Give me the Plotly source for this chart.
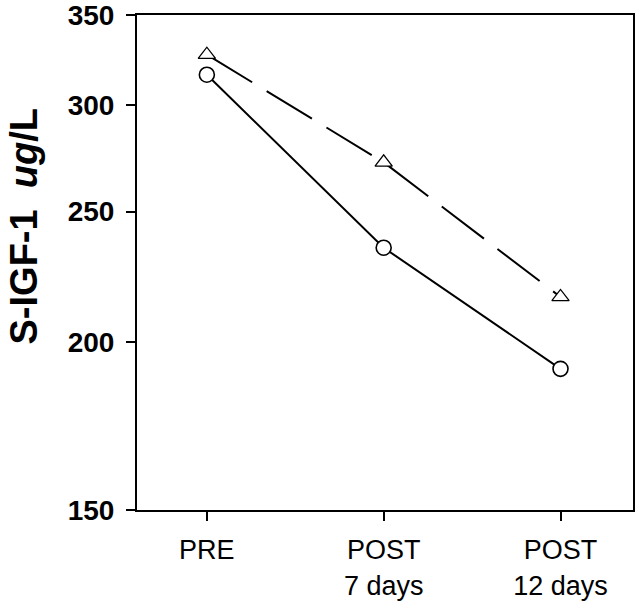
import plotly.graph_objects as go
import math

categories = ["PRE", "POST<br>7 days", "POST<br>12 days"]
x_pos = [0, 1, 2]
triangle_values = [327, 272, 216]
circle_values = [316, 235, 191]
y_ticks = [150, 200, 250, 300, 350]

fig = go.Figure()
fig.add_trace(go.Scatter(
    x=x_pos, y=triangle_values, mode="lines+markers",
    line=dict(color="black", width=2, dash="53px,17px"),
    marker=dict(symbol="triangle-up", size=15, color="white", line=dict(width=1.3, color="black")),
    showlegend=False))
fig.add_trace(go.Scatter(
    x=x_pos, y=circle_values, mode="lines+markers",
    line=dict(color="black", width=2),
    marker=dict(symbol="circle", size=15, color="white", line=dict(width=1.6, color="black")),
    showlegend=False))

fig.update_layout(
    width=638, height=604,
    margin=dict(l=137, r=5, t=15, b=94),
    plot_bgcolor="white", paper_bgcolor="white",
    font=dict(family="Liberation Sans, Arial, sans-serif", color="black"),
    xaxis=dict(
        range=[-0.395, 2.41], tickvals=x_pos, ticktext=categories,
        showline=True, linecolor="black", linewidth=2, mirror=True,
        ticks="outside", ticklen=9, tickwidth=2, tickcolor="black",
        showgrid=False, zeroline=False, automargin=False,
        tickfont=dict(size=27), ticklabelstandoff=6,
    ),
    yaxis=dict(
        type="log", range=[math.log10(150) - 1e-6, math.log10(350) + 1e-6],
        tickvals=y_ticks, ticktext=[f"<b>{v}</b>" for v in y_ticks],
        showline=True, linecolor="black", linewidth=2, mirror=True,
        ticks="outside", ticklen=9, tickwidth=2, tickcolor="black",
        showgrid=False, zeroline=False, automargin=False,
        tickfont=dict(size=28), ticklabelstandoff=6,
        ticklabeloverflow="allow",
    ),
    annotations=[dict(
        text="<b>S-IGF-1  <i>ug</i>/L</b>", textangle=-90,
        xref="paper", yref="paper", x=-0.228, y=0.5726,
        xanchor="center", yanchor="middle", showarrow=False,
        font=dict(size=38),
    )],
)

fig.write_html("out.html", config={"displayModeBar": False},
               post_script="document.body.style.margin='0';")
